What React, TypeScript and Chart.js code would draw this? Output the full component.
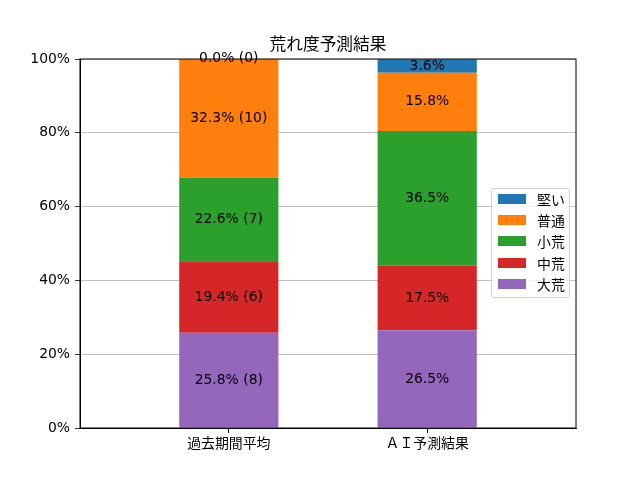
import { useEffect, useRef } from "react";
import { Chart, registerables } from "chart.js";

Chart.register(...registerables);

// categories and series (bottom → top of each stack)
const CATEGORIES = ["過去期間平均", "ＡＩ予測結果"];
const SERIES = ["大荒", "中荒", "小荒", "普通", "堅い"];
const COLORS = ["#9467bd", "#d62728", "#2ca02c", "#ff7f0e", "#1f77b4"];

// percent values per series, per category
const PAST_PCT = [25.8, 19.4, 22.6, 32.3, 0.0];
const PAST_COUNT = [8, 6, 7, 10, 0];
const AI_PCT = [26.5, 17.5, 36.5, 15.8, 3.6];

const Y_TICKS = [0, 20, 40, 60, 80, 100];

const FONT = "'DejaVu Sans', 'Noto Sans CJK JP', sans-serif";
const FS = 13.9;

// Labels in the middle of each segment
const segmentLabels = {
  id: "segmentLabels",
  afterDatasetsDraw(chart: Chart) {
    const { ctx } = chart;
    ctx.save();
    ctx.font = `${FS}px ${FONT}`;
    ctx.fillStyle = "#000";
    ctx.textAlign = "center";
    ctx.textBaseline = "middle";
    chart.data.datasets.forEach((_ds, di) => {
      const meta = chart.getDatasetMeta(di);
      meta.data.forEach((el: any, i) => {
        const y = (el.y + el.base) / 2;
        const label =
          i === 0
            ? `${PAST_PCT[di].toFixed(1)}% (${PAST_COUNT[di]})`
            : `${AI_PCT[di].toFixed(1)}%`;
        ctx.fillText(label, el.x, y);
      });
    });
    ctx.restore();
  },
};

// Black frame round the plot area
const frame = {
  id: "frame",
  afterDraw(chart: Chart) {
    const { ctx, chartArea: a } = chart;
    ctx.save();
    ctx.strokeStyle = "#000";
    ctx.lineWidth = 1;
    ctx.strokeRect(a.left, a.top, a.right - a.left, a.bottom - a.top);
    ctx.restore();
  },
};

export default function App() {
  const canvasRef = useRef<HTMLCanvasElement>(null);

  useEffect(() => {
    document.body.style.margin = "0";
    if (!canvasRef.current) return;
    const chart = new Chart(canvasRef.current, {
      type: "bar",
      plugins: [segmentLabels, frame],
      data: {
        datasets: SERIES.map((name, si) => ({
          label: name,
          data: [
            { x: 0, y: PAST_PCT[si] },
            { x: 1, y: AI_PCT[si] },
          ],
          backgroundColor: COLORS[si],
          borderWidth: 0,
          barPercentage: 0.5,
          categoryPercentage: 1,
        })),
      },
      options: {
        animation: false,
        responsive: false,
        events: [],
        layout: { padding: { left: 0, right: 64, top: 59, bottom: 0 } },
        plugins: {
          legend: { display: false },
          title: { display: false },
          tooltip: { enabled: false },
        },
        scales: {
          x: {
            type: "linear",
            stacked: true,
            offset: false,
            min: -0.75,
            max: 1.75,
            afterBuildTicks: (scale: any) => {
              scale.ticks = CATEGORIES.map((_, i) => ({ value: i }));
            },
            afterFit: (scale: any) => {
              scale.height = 52;
            },
            grid: {
              display: true,
              offset: false,
              drawOnChartArea: false,
              drawTicks: true,
              tickLength: 5,
              tickColor: "#000",
            },
            border: { display: true, color: "#000" },
            ticks: {
              autoSkip: false,
              maxRotation: 0,
              padding: 3,
              color: "#000",
              font: { family: FONT, size: FS },
              callback: (v: any) => CATEGORIES[Number(v)] ?? "",
            },
          },
          y: {
            stacked: true,
            min: 0,
            max: 100,
            afterBuildTicks: (scale: any) => {
              scale.ticks = Y_TICKS.map((v) => ({ value: v }));
            },
            afterFit: (scale: any) => {
              scale.width = 80;
            },
            grid: {
              color: "#b0b0b0",
              lineWidth: 0.8,
              tickColor: "#000",
              tickLength: 5,
            },
            border: { display: true, color: "#000" },
            ticks: {
              padding: 5,
              color: "#000",
              font: { family: FONT, size: FS },
              callback: (v: any) => `${v}%`,
            },
          },
        },
      },
    });
    return () => chart.destroy();
  }, []);

  return (
    <div style={{ position: "relative", width: 640, height: 480, background: "#fff", fontFamily: FONT }}>
      <canvas ref={canvasRef} width={640} height={480} style={{ width: 640, height: 480 }} />
      <div
        style={{
          position: "absolute",
          left: 0,
          width: 656,
          top: 33,
          textAlign: "center",
          fontSize: 16.7,
          lineHeight: "22px",
          color: "#000",
        }}
      >
        荒れ度予測結果
      </div>
      <div
        style={{
          position: "absolute",
          left: 491,
          top: 188,
          width: 77,
          height: 108,
          border: "1px solid #d0d0d0",
          borderRadius: 3,
          background: "rgba(255,255,255,0.8)",
          boxSizing: "content-box",
        }}
      >
        {SERIES.map((_, k) => SERIES.length - 1 - k).map((si, row) => (
          <div
            key={si}
            style={{
              position: "absolute",
              left: 6,
              top: 0 + row * 21.2,
              height: 20,
              display: "flex",
              alignItems: "center",
              fontSize: FS,
              color: "#000",
            }}
          >
            <span style={{ display: "inline-block", width: 28, height: 10, background: COLORS[si], marginRight: 11 }} />
            {SERIES[si]}
          </div>
        ))}
      </div>
    </div>
  );
}
